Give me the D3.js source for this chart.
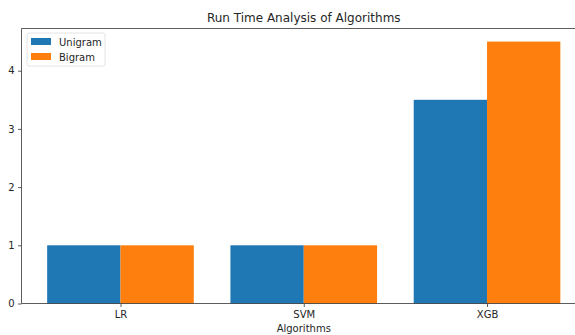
<!DOCTYPE html>
<html>
<head>
<meta charset="utf-8">
<script src="https://cdn.jsdelivr.net/npm/d3@7"></script>
<style>
  body { margin: 0; background: #fff; }
  text { font-family: "DejaVu Sans", sans-serif; fill: #262626; }
</style>
</head>
<body>
<div id="chart"></div>
<script>
var algorithms = ["LR", "SVM", "XGB"];
var unigram = [1, 1, 3.5];
var bigram = [1, 1, 4.5];
var seriesNames = ["Unigram", "Bigram"];
var seriesColors = ["#1f77b4", "#ff7f0e"];
var yTicks = [0, 1, 2, 3, 4];

var width = 575, height = 335;
var margin = { top: 28.5, right: -11, bottom: 31.5, left: 21.5 };
var innerW = width - margin.left - margin.right,
    innerH = height - margin.top - margin.bottom;

var svg = d3.select("#chart").append("svg")
    .attr("width", width)
    .attr("height", height);

var g = svg.append("g")
    .attr("transform", "translate(" + margin.left + "," + margin.top + ")");

// numeric x like matplotlib: categories at 0,1,2, bar width 0.4
var barW = 0.4;
var x = d3.scaleLinear().domain([-0.54, 2.54]).range([0, innerW]);
var y = d3.scaleLinear().domain([0, 4.725]).range([innerH, 0]);

var rows = algorithms.map(function(a, i) {
    return { name: a, i: i, vals: [unigram[i], bigram[i]] };
});

rows.forEach(function(r) {
    r.vals.forEach(function(v, s) {
        var x0 = s === 0 ? r.i - barW : r.i;
        g.append("rect")
            .attr("x", x(x0))
            .attr("y", y(v))
            .attr("width", x(x0 + barW) - x(x0))
            .attr("height", y(0) - y(v))
            .attr("fill", seriesColors[s]);
    });
});

// axes
var yAxis = g.append("g")
    .call(d3.axisLeft(y).tickValues(yTicks).tickSize(3.5).tickPadding(3.5).tickFormat(d3.format("d")));
var xAxis = g.append("g")
    .attr("transform", "translate(0," + innerH + ")")
    .call(d3.axisBottom(x).tickValues(d3.range(algorithms.length)).tickSize(3.5).tickPadding(3.5)
        .tickFormat(function(d) { return algorithms[d]; }));

[yAxis, xAxis].forEach(function(ax) {
    ax.select(".domain").remove();
    ax.selectAll("line").attr("stroke", "#333").attr("stroke-width", 0.8);
    ax.selectAll("text").style("font-size", "10px").style("fill", "#262626")
        .style("font-family", "'DejaVu Sans', sans-serif");
});

// spines
g.append("line").attr("x1", 0).attr("x2", 0).attr("y1", 0).attr("y2", innerH)
    .attr("stroke", "#333").attr("stroke-width", 0.8);
g.append("line").attr("x1", 0).attr("x2", innerW).attr("y1", innerH).attr("y2", innerH)
    .attr("stroke", "#333").attr("stroke-width", 0.8);
g.append("line").attr("x1", 0).attr("x2", innerW).attr("y1", 0).attr("y2", 0)
    .attr("stroke", "#333").attr("stroke-width", 0.8);

// title and label
svg.append("text")
    .attr("x", margin.left + innerW / 2)
    .attr("y", 22)
    .attr("text-anchor", "middle")
    .style("font-size", "12px")
    .text("Run Time Analysis of Algorithms");

svg.append("text")
    .attr("x", margin.left + innerW / 2)
    .attr("y", 332)
    .attr("text-anchor", "middle")
    .style("font-size", "10px")
    .text("Algorithms");

// legend
var legend = g.append("g").attr("transform", "translate(5.5,4.5)");
legend.append("rect")
    .attr("x", 0).attr("y", 0).attr("width", 78).attr("height", 33)
    .attr("rx", 2).attr("fill", "#fff").attr("fill-opacity", 0.8)
    .attr("stroke", "#ddd").attr("stroke-width", 0.8);
seriesNames.forEach(function(n, i) {
    legend.append("rect")
        .attr("x", 4).attr("y", 5 + i * 15).attr("width", 20).attr("height", 7)
        .attr("fill", seriesColors[i]);
    legend.append("text")
        .attr("x", 32).attr("y", 12.5 + i * 15)
        .style("font-size", "10px")
        .text(n);
});
</script>
</body>
</html>
